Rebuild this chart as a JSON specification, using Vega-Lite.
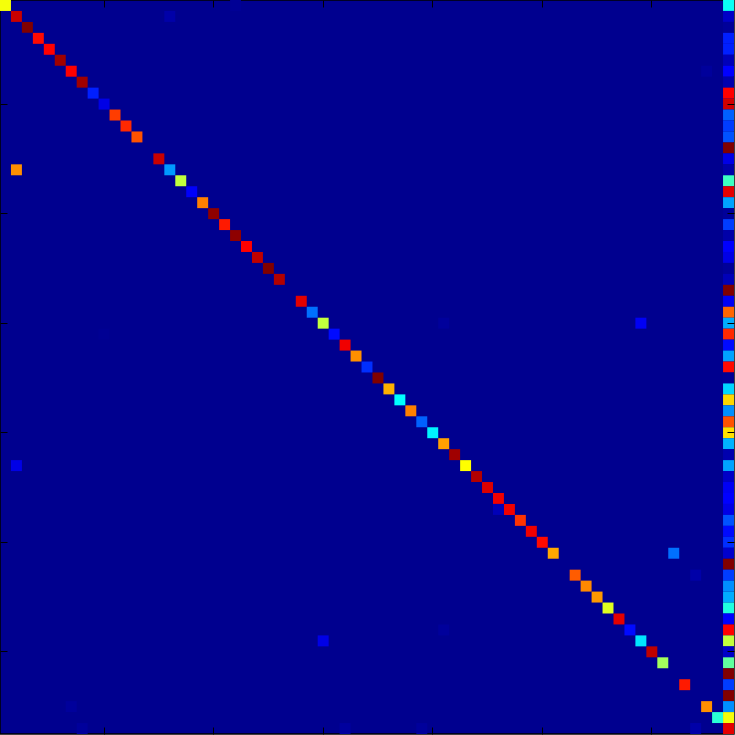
{"$schema":"https://vega.github.io/schema/vega-lite/v6.json","width":734,"height":734,"padding":{"left":0,"top":0,"right":1,"bottom":1},"autosize":{"type":"none"},"background":"white",
"config":{"view":{"fill":"#00008f","stroke":"#000000","strokeWidth":1.5}},
"datasets":{"cells":[
{"r":1,"c":1,"v":0.6},{"r":2,"c":2,"v":0.92},{"r":3,"c":3,"v":1},{"r":4,"c":4,"v":0.85},{"r":5,"c":5,"v":0.86},{"r":6,"c":6,"v":0.965},{"r":7,"c":7,"v":0.86},{"r":8,"c":8,"v":0.965},{"r":9,"c":9,"v":0.14},{"r":10,"c":10,"v":0.085},
{"r":11,"c":11,"v":0.8},{"r":12,"c":12,"v":0.82},{"r":13,"c":13,"v":0.78},{"r":15,"c":15,"v":0.92},{"r":16,"c":16,"v":0.26},{"r":17,"c":17,"v":0.55},{"r":18,"c":18,"v":0.105},{"r":19,"c":19,"v":0.735},{"r":20,"c":20,"v":0.985},
{"r":21,"c":21,"v":0.835},{"r":22,"c":22,"v":0.985},{"r":23,"c":23,"v":0.86},{"r":24,"c":24,"v":0.93},{"r":25,"c":25,"v":1},{"r":26,"c":26,"v":0.945},{"r":28,"c":28,"v":0.89},{"r":29,"c":29,"v":0.22},{"r":30,"c":30,"v":0.55},
{"r":31,"c":31,"v":0.12},{"r":32,"c":32,"v":0.875},{"r":33,"c":33,"v":0.72},{"r":34,"c":34,"v":0.155},{"r":35,"c":35,"v":1},{"r":36,"c":36,"v":0.687},{"r":37,"c":37,"v":0.36},{"r":38,"c":38,"v":0.735},{"r":39,"c":39,"v":0.205},{"r":40,"c":40,"v":0.35},
{"r":41,"c":41,"v":0.703},{"r":42,"c":42,"v":0.965},{"r":43,"c":43,"v":0.61},{"r":44,"c":44,"v":0.945},{"r":45,"c":45,"v":0.9},{"r":46,"c":46,"v":0.875},{"r":47,"c":47,"v":0.875},{"r":48,"c":48,"v":0.81},{"r":49,"c":49,"v":0.875},{"r":50,"c":50,"v":0.85},
{"r":51,"c":51,"v":0.695},{"r":53,"c":53,"v":0.77},{"r":54,"c":54,"v":0.727},{"r":55,"c":55,"v":0.711},{"r":56,"c":56,"v":0.58},{"r":57,"c":57,"v":0.89},{"r":58,"c":58,"v":0.12},{"r":59,"c":59,"v":0.335},{"r":60,"c":60,"v":0.93},
{"r":61,"c":61,"v":0.52},{"r":63,"c":63,"v":0.835},{"r":65,"c":65,"v":0.72},{"r":66,"c":66,"v":0.4},
{"r":1,"c":67,"v":0.37},{"r":2,"c":67,"v":0.055},{"r":3,"c":67,"v":0.01},{"r":4,"c":67,"v":0.14},{"r":5,"c":67,"v":0.14},{"r":6,"c":67,"v":0.04},{"r":7,"c":67,"v":0.11},{"r":8,"c":67,"v":0.03},{"r":9,"c":67,"v":0.86},{"r":10,"c":67,"v":0.91},
{"r":11,"c":67,"v":0.205},{"r":12,"c":67,"v":0.17},{"r":13,"c":67,"v":0.19},{"r":14,"c":67,"v":1},{"r":15,"c":67,"v":0.085},{"r":16,"c":67,"v":0.025},{"r":17,"c":67,"v":0.42},{"r":18,"c":67,"v":0.89},{"r":19,"c":67,"v":0.27},{"r":20,"c":67,"v":0.01},
{"r":21,"c":67,"v":0.17},{"r":22,"c":67,"v":0.025},{"r":23,"c":67,"v":0.11},{"r":24,"c":67,"v":0.085},{"r":25,"c":67,"v":0.01},{"r":26,"c":67,"v":0.04},{"r":27,"c":67,"v":1},{"r":28,"c":67,"v":0.1},{"r":29,"c":67,"v":0.76},{"r":30,"c":67,"v":0.28},
{"r":31,"c":67,"v":0.82},{"r":32,"c":67,"v":0.12},{"r":33,"c":67,"v":0.27},{"r":34,"c":67,"v":0.85},{"r":35,"c":67,"v":0.005},{"r":36,"c":67,"v":0.32},{"r":37,"c":67,"v":0.65},{"r":38,"c":67,"v":0.25},{"r":39,"c":67,"v":0.78},{"r":40,"c":67,"v":0.64},
{"r":41,"c":67,"v":0.285},{"r":42,"c":67,"v":0.03},{"r":43,"c":67,"v":0.27},{"r":44,"c":67,"v":0.055},{"r":45,"c":67,"v":0.1},{"r":46,"c":67,"v":0.11},{"r":47,"c":67,"v":0.085},{"r":48,"c":67,"v":0.19},{"r":49,"c":67,"v":0.12},{"r":50,"c":67,"v":0.155},
{"r":51,"c":67,"v":0.06},{"r":52,"c":67,"v":1},{"r":53,"c":67,"v":0.17},{"r":54,"c":67,"v":0.25},{"r":55,"c":67,"v":0.28},{"r":56,"c":67,"v":0.39},{"r":57,"c":67,"v":0.11},{"r":58,"c":67,"v":0.86},{"r":59,"c":67,"v":0.55},{"r":60,"c":67,"v":0.055},
{"r":61,"c":67,"v":0.455},{"r":62,"c":67,"v":1},{"r":63,"c":67,"v":0.17},{"r":64,"c":67,"v":1},{"r":65,"c":67,"v":0.25},{"r":66,"c":67,"v":0.6},{"r":67,"c":67,"v":0.89},
{"r":16,"c":2,"v":0.72},{"r":43,"c":2,"v":0.085},{"r":47,"c":46,"v":0.04},{"r":51,"c":62,"v":0.22},{"r":53,"c":64,"v":0.025},{"r":67,"c":64,"v":0.025},{"r":2,"c":16,"v":0.025},{"r":1,"c":22,"v":0.006},{"r":7,"c":65,"v":0.012},{"r":30,"c":41,"v":0.012},{"r":30,"c":59,"v":0.1},{"r":31,"c":10,"v":0.004},{"r":59,"c":30,"v":0.085},{"r":58,"c":41,"v":0.012},{"r":65,"c":7,"v":0.012},{"r":67,"c":8,"v":0.012},{"r":67,"c":32,"v":0.015},{"r":67,"c":39,"v":0.012}
]},
"data":{"name":"cells"},
"layer":[
{"mark":{"type":"rect","strokeWidth":0},
"encoding":{
"x":{"field":"c","type":"ordinal","scale":{"domain":[1,2,3,4,5,6,7,8,9,10,11,12,13,14,15,16,17,18,19,20,21,22,23,24,25,26,27,28,29,30,31,32,33,34,35,36,37,38,39,40,41,42,43,44,45,46,47,48,49,50,51,52,53,54,55,56,57,58,59,60,61,62,63,64,65,66,67],"padding":0},"axis":{"orient":"bottom","title":null,"labels":false,"values":[10,20,30,40,50,60],"tickSize":-7,"tickColor":"#000000","tickWidth":1,"domain":false,"grid":false}},
"y":{"field":"r","type":"ordinal","scale":{"domain":[1,2,3,4,5,6,7,8,9,10,11,12,13,14,15,16,17,18,19,20,21,22,23,24,25,26,27,28,29,30,31,32,33,34,35,36,37,38,39,40,41,42,43,44,45,46,47,48,49,50,51,52,53,54,55,56,57,58,59,60,61,62,63,64,65,66,67],"padding":0},"axis":{"orient":"left","title":null,"labels":false,"values":[10,20,30,40,50,60],"tickSize":-7,"tickColor":"#000000","tickWidth":1,"domain":false,"grid":false}},
"color":{"field":"v","type":"quantitative","legend":null,"scale":{"interpolate":"rgb","domain":[0,0.11,0.36,0.61,0.86,1],"range":["#00008f","#0000ff","#00ffff","#ffff00","#ff0000","#800000"]}}}},
{"mark":{"type":"rect","opacity":0,"strokeWidth":0},
"encoding":{
"x":{"field":"c","type":"ordinal","axis":{"orient":"top","title":null,"labels":false,"values":[10,20,30,40,50,60],"tickSize":-7,"tickColor":"#000000","tickWidth":1,"domain":false,"grid":false}},
"y":{"field":"r","type":"ordinal","axis":{"orient":"right","title":null,"labels":false,"values":[10,20,30,40,50,60],"tickSize":-7,"tickColor":"#000000","tickWidth":1,"domain":false,"grid":false}}}}
],
"resolve":{"axis":{"x":"independent","y":"independent"}}}
